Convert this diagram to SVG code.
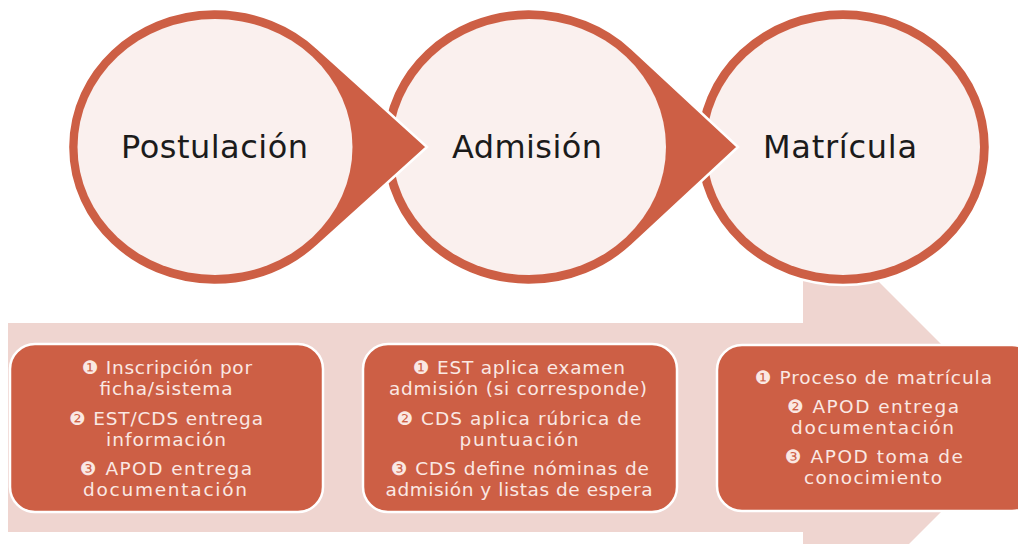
<svg xmlns="http://www.w3.org/2000/svg" width="1018" height="544" viewBox="0 0 1018 544">
<style>
.bg{fill:#ffffff}
.drop{fill:#CD5F45;stroke:#ffffff;stroke-width:2.5;stroke-linejoin:miter}
.inner{fill:#FAF0EE}
.title{font-family:"DejaVu Sans","Liberation Sans",sans-serif;font-size:32px;fill:#1b1b1b;text-anchor:middle}
.box{fill:#CD5F45;stroke:#ffffff;stroke-width:2.5}
.bt{font-family:"DejaVu Sans","Liberation Sans",sans-serif;font-size:18.5px;fill:#FAE8E3;text-anchor:middle}
.band{fill:#EFD5D0}
</style>
<rect class="bg" x="0" y="0" width="1018" height="544"/>
<g id="connectors">
  <path id="process-arrow" class="band" d="M8,323 H803 V206 L1025,428 L803,650 V532 H8 Z"/>
</g>
<g id="node-matricula">
  <ellipse class="drop" cx="843" cy="147" rx="147" ry="138"/>
  <ellipse class="inner" cx="843" cy="147" rx="137" ry="128"/>
  <text class="title" x="840" y="158" textLength="154">Matrícula</text>
</g>
<g id="node-admision">
  <path class="drop" d="M631.9,48.5 L738,147 L631.9,245.5 A147 138 0 1 1 631.9,48.5 Z"/>
  <ellipse class="inner" cx="529" cy="147" rx="137" ry="128"/>
  <text class="title" x="527" y="158" textLength="150">Admisión</text>
</g>
<g id="node-postulacion">
  <path class="drop" d="M317.9,48.5 L427,147 L317.9,245.5 A147 138 0 1 1 317.9,48.5 Z"/>
  <ellipse class="inner" cx="215" cy="147" rx="137.5" ry="128"/>
  <text class="title" x="214.5" y="158" textLength="187">Postulación</text>
</g>
<g id="box-postulacion">
  <rect class="box" x="10" y="344" width="313" height="168" rx="25"/>
  <text class="bt" x="167" y="374" textLength="170">❶ Inscripción por</text>
  <text class="bt" x="166" y="395" textLength="133">ficha/sistema</text>
  <text class="bt" x="166" y="425" textLength="194">❷ EST/CDS entrega</text>
  <text class="bt" x="166" y="446" textLength="120">información</text>
  <text class="bt" x="166" y="475" textLength="172">❸ APOD entrega</text>
  <text class="bt" x="165" y="496" textLength="164">documentación</text>
</g>
<g id="box-admision">
  <rect class="box" x="363" y="344" width="314" height="168" rx="25"/>
  <text class="bt" x="519" y="374" textLength="212">❶ EST aplica examen</text>
  <text class="bt" x="518" y="395" textLength="258">admisión (si corresponde)</text>
  <text class="bt" x="519" y="425" textLength="245">❷ CDS aplica rúbrica de</text>
  <text class="bt" x="519" y="446" textLength="119">puntuación</text>
  <text class="bt" x="520" y="475" textLength="258">❸ CDS define nóminas de</text>
  <text class="bt" x="519" y="496" textLength="267">admisión y listas de espera</text>
</g>
<g id="box-matricula">
  <rect class="box" x="717" y="345" width="320" height="166" rx="25"/>
  <text class="bt" x="873.5" y="384" textLength="237">❶ Proceso de matrícula</text>
  <text class="bt" x="873" y="413" textLength="172">❷ APOD entrega</text>
  <text class="bt" x="872.5" y="434" textLength="163">documentación</text>
  <text class="bt" x="874" y="463" textLength="178">❸ APOD toma de</text>
  <text class="bt" x="873" y="484" textLength="138">conocimiento</text>
</g>
</svg>
